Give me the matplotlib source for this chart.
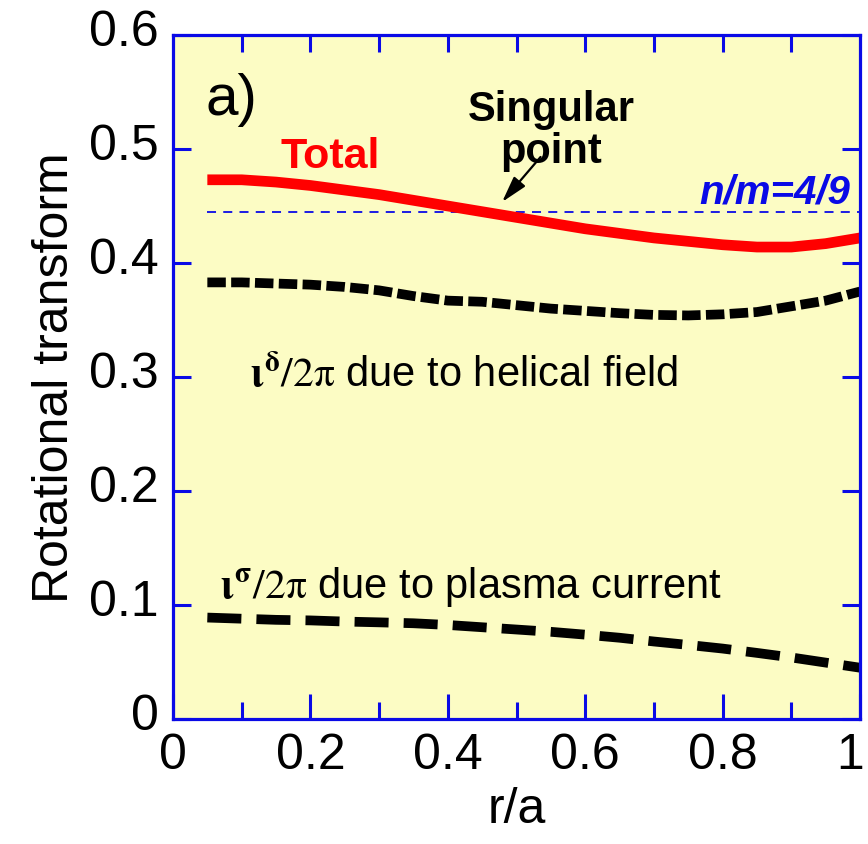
import numpy as np
import matplotlib
matplotlib.use('Agg')
import matplotlib.pyplot as plt
from matplotlib.ticker import MultipleLocator
from matplotlib.transforms import ScaledTranslation

plt.rcParams['font.family'] = ['Liberation Sans', 'DejaVu Sans']
plt.rcParams['mathtext.fontset'] = 'stix'

# r/a grid and curves
r = [0.05, 0.10, 0.15, 0.20, 0.25, 0.30, 0.35, 0.40, 0.45, 0.50,
     0.55, 0.60, 0.65, 0.70, 0.75, 0.80, 0.85, 0.90, 0.95, 1.00]
iota_total = [0.473, 0.473, 0.471, 0.468, 0.464, 0.460, 0.455, 0.450, 0.445, 0.440,
              0.435, 0.430, 0.426, 0.422, 0.419, 0.416, 0.414, 0.414, 0.417, 0.422]
iota_helical = [0.383, 0.383, 0.382, 0.381, 0.379, 0.376, 0.371, 0.367, 0.366, 0.363,
                0.360, 0.358, 0.356, 0.3545, 0.354, 0.355, 0.357, 0.362, 0.367, 0.375]
iota_current = [0.089, 0.088, 0.087, 0.0865, 0.0855, 0.0848, 0.084, 0.0825, 0.0805, 0.0785,
                0.0765, 0.074, 0.0713, 0.068, 0.065, 0.0618, 0.058, 0.054, 0.0495, 0.045]
resonance = 4 / 9

blue = '#0A0AE6'

fig = plt.figure(figsize=(8.68, 8.45), dpi=100)
ax = fig.add_axes([0.1993, 0.1479, 0.7915, 0.8095])
ax.set_facecolor('#FCFCC4')

ax.plot([r[0], r[-1]], [resonance, resonance], color=blue, lw=1.3, dashes=(5, 4))
ax.plot(r, iota_total, color='#FF0000', lw=7.7, solid_capstyle='butt')
ax.plot(r, iota_helical, color='black', lw=7, dashes=(1.9, 0.55), dash_capstyle='butt')
ax.plot(r, iota_current, color='black', lw=7, dashes=(3.5, 1.55), dash_capstyle='butt')

ax.set_xlim(0, 1)
ax.set_ylim(0, 0.6)
ax.xaxis.set_minor_locator(MultipleLocator(0.1))
ax.set_xticks([0, 0.2, 0.4, 0.6, 0.8, 1.0])
ax.set_xticklabels(['0', '0.2', '0.4', '0.6', '0.8', '1'])
ax.set_yticks([0, 0.1, 0.2, 0.3, 0.4, 0.5, 0.6])
ax.set_yticklabels(['0', '0.1', '0.2', '0.3', '0.4', '0.5', '0.6'])

for s in ax.spines.values():
    s.set_color(blue)
    s.set_linewidth(2.3)

ax.tick_params(axis='x', which='major', direction='in', length=18, width=2.2,
               color=blue, labelsize=36, pad=9, top=False)
ax.tick_params(axis='x', which='minor', direction='in', length=12, width=2.2,
               color=blue, top=False)
ax.tick_params(axis='y', which='major', direction='in', length=13, width=2.2,
               color=blue, labelsize=36, pad=10, right=True)

# y labels sit a little above their ticks, last x label pulled in from the edge
for lab in ax.get_yticklabels():
    lab.set_transform(lab.get_transform() + ScaledTranslation(0, 6 / 72, fig.dpi_scale_trans))
last = ax.get_xticklabels()[-1]
last.set_transform(last.get_transform() + ScaledTranslation(-7 / 72, 0, fig.dpi_scale_trans))

top = ax.secondary_xaxis('top')
top.set_xticks(np.arange(0.1, 1.0, 0.1))
top.tick_params(direction='in', length=12, width=2.2, color=blue, labeltop=False)
top.spines['top'].set_visible(False)

ax.set_xlabel('r/a', fontsize=36, labelpad=6)
ax.set_ylabel('Rotational transform', fontsize=36, labelpad=8)

ax.text(0.047, 0.531, 'a)', fontsize=42)
ax.text(0.156, 0.484, 'Total', fontsize=31, fontweight='bold', color='#FF0000')
ax.text(0.55, 0.489, 'Singular\npoint', fontsize=30, fontweight='bold',
        ha='center', va='baseline', linespacing=1.05)
ax.annotate('', xy=(0.479, 0.4535), xytext=(0.535, 0.493),
            arrowprops=dict(arrowstyle='-|>,head_length=1.6,head_width=0.45',
                            color='black', lw=1.6, shrinkA=0, shrinkB=0))
ax.text(0.985, 0.453, 'n/m=4/9', fontsize=29, fontweight='bold', fontstyle='italic',
        color=blue, ha='right', va='baseline')
ax.text(0.112, 0.292, r'$\mathbf{\iota}^{\mathbf{\delta}}\mathrm{/2\pi}$ due to helical field',
        fontsize=30, va='baseline')
ax.text(0.068, 0.107, r'$\mathbf{\iota}^{\mathbf{\sigma}}\mathrm{/2\pi}$ due to plasma current',
        fontsize=30, va='baseline')

fig.savefig('out.png', dpi=100)
